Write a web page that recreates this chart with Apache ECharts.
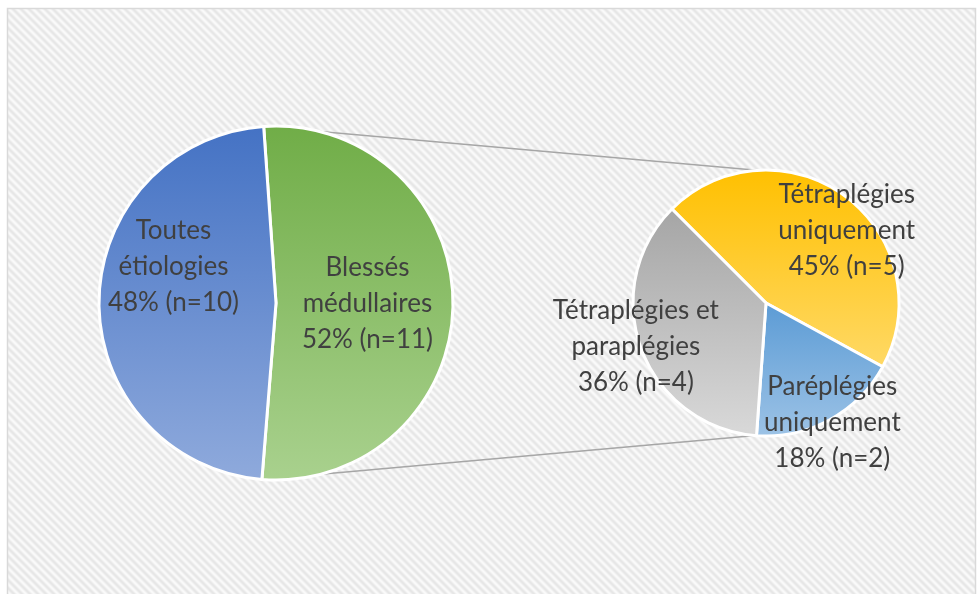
<!DOCTYPE html>
<html>
<head>
    <meta charset="utf-8">
    <title>Pie of pie</title>
    <script src="https://cdn.jsdelivr.net/npm/echarts@6/dist/echarts.min.js"></script>
    <style>
        body { margin: 0; }
    </style>
</head>
<body>
<div id="main" style="width: 979px;height:594px;"></div>
<script type="text/javascript">
    // main pie: whole population
    var mainNames = ['Blessés\nmédullaires', 'Toutes\nétiologies'];
    var mainValues = [11, 10];
    // secondary pie: split of "Blessés médullaires"
    var subNames = ['Tétraplégies\nuniquement', 'Paréplégies\nuniquement', 'Tétraplégies et\nparaplégies'];
    var subValues = [5, 2, 4];

    // gradient colours (top -> bottom) for each slice
    var mainColors = [['#70AD47', '#A9D18E'], ['#4472C4', '#8FAADC']];
    var subColors = [['#FFC000', '#FFD966'], ['#5B9BD5', '#9DC3E6'], ['#A5A5A5', '#D9D9D9']];
    // label nudges, Excel puts them away from the default inside spot
    var mainShift = [[0, 0], [-11, -36]];
    var subShift = [[39, -17], [33, 59], [-65, 19]];

    var leftC = [276, 303], leftR = 177, leftStart = 94;
    var rightC = [766, 303], rightR = 133, rightStart = 135;

    function grad(c) {
        return { type: 'linear', x: 0, y: 0, x2: 0, y2: 1,
            colorStops: [{ offset: 0, color: c[0] }, { offset: 1, color: c[1] }] };
    }
    function buildData(names, values, colors) {
        return names.map(function (n, i) {
            return { name: n, value: values[i], itemStyle: { color: grad(colors[i]) } };
        });
    }

    // striped background tile
    var tile = document.createElement('canvas');
    tile.width = 8; tile.height = 8;
    var tctx = tile.getContext('2d');
    var img = tctx.createImageData(8, 8);
    for (var y = 0; y < 8; y++) {
        for (var x = 0; x < 8; x++) {
            var t = (((x - y) % 8) + 8) % 8;
            var v = Math.round(240 + 10 * Math.cos(t / 8 * 2 * Math.PI));
            var k = (y * 8 + x) * 4;
            img.data[k] = v; img.data[k + 1] = v; img.data[k + 2] = v; img.data[k + 3] = 255;
        }
    }
    tctx.putImageData(img, 0, 0);

    // connector lines: same angles on both pies
    var total = mainValues[0] + mainValues[1];
    var a1 = leftStart * Math.PI / 180;
    var a2 = (leftStart - 360 * mainValues[0] / total) * Math.PI / 180;
    function pt(c, r, a) { return [c[0] + r * Math.cos(a), c[1] - r * Math.sin(a)]; }
    var p1 = pt(leftC, leftR, a1), q1 = pt(rightC, rightR, a1);
    var p2 = pt(leftC, leftR, a2), q2 = pt(rightC, rightR, a2);

    var labelFont = {
        position: 'inside',
        // plain rounding like Excel (no forcing to 100 %)
        formatter: function (p) {
            return p.name + '\n' + Math.round(p.percent) + '% (n=' + p.value + ')';
        },
        color: '#404040',
        fontFamily: 'Lato',
        fontSize: 26,
        lineHeight: 36,
        align: 'center'
    };

    var myChart = echarts.init(document.getElementById('main'));
    var option = {
        backgroundColor: '#fff',
        animation: false,
        graphic: [
            { type: 'rect', z: -10, shape: { x: 7.5, y: 8.5, width: 968, height: 600 },
              style: { fill: { type: 'pattern', image: tile, repeat: 'repeat' }, stroke: '#D9D9D9', lineWidth: 1.5 } },
            { type: 'line', z: -5, shape: { x1: p1[0], y1: p1[1], x2: q1[0], y2: q1[1] },
              style: { stroke: '#A6A6A6', lineWidth: 1.5 } },
            { type: 'line', z: -5, shape: { x1: p2[0], y1: p2[1], x2: q2[0], y2: q2[1] },
              style: { stroke: '#A6A6A6', lineWidth: 1.5 } }
        ],
        series: [
            {
                type: 'pie',
                center: leftC,
                radius: leftR,
                startAngle: leftStart,
                percentPrecision: 2,
                itemStyle: { borderColor: '#fff', borderWidth: 3 },
                label: labelFont,
                labelLine: { show: false },
                emphasis: { disabled: true },
                labelLayout: function (p) {
                    var s = mainShift[p.dataIndex];
                    return { dx: s[0], dy: s[1] };
                },
                data: buildData(mainNames, mainValues, mainColors)
            },
            {
                type: 'pie',
                center: rightC,
                radius: rightR,
                startAngle: rightStart,
                percentPrecision: 2,
                itemStyle: { borderColor: '#fff', borderWidth: 3 },
                label: labelFont,
                labelLine: { show: false },
                emphasis: { disabled: true },
                labelLayout: function (p) {
                    var s = subShift[p.dataIndex];
                    return { dx: s[0], dy: s[1] };
                },
                data: buildData(subNames, subValues, subColors)
            }
        ]
    };
    myChart.setOption(option);
</script>
</body>
</html>
